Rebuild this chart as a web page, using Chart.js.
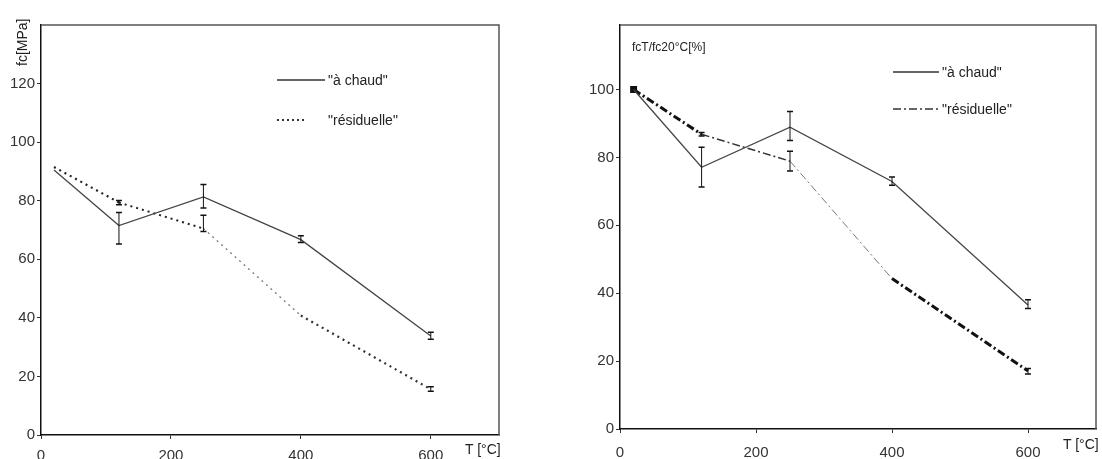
<!DOCTYPE html>
<html>
<head>
<meta charset="utf-8">
<script src="https://cdn.jsdelivr.net/npm/chart.js@4/dist/chart.umd.min.js"></script>
<style>
  body { margin: 0; background: #fff; width: 1102px; height: 459px; overflow: hidden; position: relative; font-family: "Liberation Sans", Arial, sans-serif; color: #222; }
  canvas { position: absolute; top: 0; }
  #left { left: 0; }
  #right { left: 520px; }
  .lbl { position: absolute; font-size: 14px; white-space: nowrap; line-height: 1; }
  .leg { position: absolute; font-size: 14px; white-space: nowrap; line-height: 1; display: flex; align-items: center; }
  .leg svg { margin-right: 3px; }
</style>
</head>
<body>
<canvas id="left" width="510" height="459"></canvas>
<canvas id="right" width="582" height="459"></canvas>

<div class="lbl" style="left:15px; top:66px; transform: rotate(-90deg); transform-origin: left top;">fc[MPa]</div>
<div class="lbl" style="left:632px; top:41px; font-size:12px;">fcT/fc20°C[%]</div>
<div class="lbl" style="left:465px; top:442px;">T [°C]</div>
<div class="lbl" style="left:1063px; top:437px;">T [°C]</div>

<div class="leg" style="left:277px; top:73px;"><svg width="48" height="4"><line x1="0" y1="2" x2="48" y2="2" stroke="#333" stroke-width="1.3"/></svg>"à chaud"</div>
<div class="leg" style="left:277px; top:113px;"><svg width="48" height="4"><line x1="0" y1="2" x2="28" y2="2" stroke="#333" stroke-width="2" stroke-dasharray="2 3"/></svg>"résiduelle"</div>
<div class="leg" style="left:893px; top:65px;"><svg width="46" height="4"><line x1="0" y1="2" x2="46" y2="2" stroke="#333" stroke-width="1.3"/></svg>"à chaud"</div>
<div class="leg" style="left:893px; top:102px;"><svg width="46" height="4"><line x1="0" y1="2" x2="46" y2="2" stroke="#333" stroke-width="1.5" stroke-dasharray="8 3 2 3"/></svg>"résiduelle"</div>

<script>
const temps = [20, 120, 250, 400, 600];

// fc [MPa]
const chaudMPa = [90.5, 71.5, 81.3, 66.7, 33.8];
const chaudMPaLow = [null, 65.2, 77.5, 65.7, 32.7];
const chaudMPaHigh = [null, 76, 85.5, 68, 35.1];
const residMPa = [91.5, 79.4, 70.5, 40.8, 15.6];
const residMPaLow = [null, 78.6, 69.5, null, 14.9];
const residMPaHigh = [null, 80.1, 75, null, 16.5];

// fcT/fc20°C [%]
const chaudPct = [100, 77.1, 88.9, 72.9, 36.5];
const chaudPctLow = [null, 71.3, 85, 71.8, 35.5];
const chaudPctHigh = [null, 83, 93.5, 74.2, 38.1];
const residPct = [100, 86.8, 78.9, 44.3, 17.1];
const residPctLow = [null, 86.3, 76, null, 16.2];
const residPctHigh = [null, 87.3, 81.8, null, 17.8];

const xTicks = [0, 200, 400, 600];
const yTicksMPa = [0, 20, 40, 60, 80, 100, 120];
const yTicksPct = [0, 20, 40, 60, 80, 100];

const pts = (ys) => temps.map((t, i) => ({ x: t, y: ys[i] }));

// error bars + frame
const extras = {
  id: "extras",
  afterDatasetsDraw(chart, args, opts) {
    const { ctx, scales: { x, y }, chartArea: a } = chart;
    ctx.save();
    ctx.strokeStyle = "#111";
    ctx.lineWidth = 1;
    opts.bars.forEach((b) => {
      temps.forEach((t, i) => {
        if (b.low[i] == null) return;
        const px = x.getPixelForValue(t);
        const y1 = y.getPixelForValue(b.low[i]);
        const y2 = y.getPixelForValue(b.high[i]);
        ctx.beginPath();
        ctx.moveTo(px, y1); ctx.lineTo(px, y2);
        ctx.stroke();
        ctx.lineWidth = 1.5;
        ctx.beginPath();
        ctx.moveTo(px - 3, y1); ctx.lineTo(px + 3, y1);
        ctx.moveTo(px - 3, y2); ctx.lineTo(px + 3, y2);
        ctx.stroke();
        ctx.lineWidth = 1;
      });
    });
    ctx.strokeStyle = "#555";
    ctx.lineWidth = 1.5;
    ctx.beginPath();
    ctx.moveTo(a.left, a.top); ctx.lineTo(a.right, a.top); ctx.lineTo(a.right, a.bottom);
    ctx.stroke();
    ctx.restore();
  },
};

function makeChart(id, cfg) {
  const tickFont = { family: "'Liberation Sans', Arial, sans-serif", size: 15 };
  return new Chart(document.getElementById(id), {
    type: "line",
    data: {
      datasets: [
        {
          data: pts(cfg.chaud),
          borderColor: "#444",
          borderWidth: 1.3,
          pointRadius: 0,
          tension: 0,
        },
        {
          data: pts(cfg.resid),
          borderColor: "#222",
          borderWidth: 2,
          pointRadius: cfg.residPoints,
          pointStyle: "rect",
          pointBackgroundColor: "#111",
          pointBorderColor: "#111",
          tension: 0,
          segment: {
            borderDash: () => cfg.dash,
            borderWidth: (c) => cfg.segWidth[c.p0DataIndex],
            borderColor: (c) => cfg.segColor[c.p0DataIndex],
          },
        },
      ],
    },
    options: {
      responsive: false,
      animation: false,
      layout: { padding: cfg.padding },
      plugins: {
        legend: { display: false },
        tooltip: { enabled: false },
        extras: { bars: cfg.bars },
      },
      scales: {
        x: {
          type: "linear",
          min: 0,
          max: cfg.xMax,
          afterFit: (s) => { s.height = cfg.xHeight; },
          afterBuildTicks: (s) => { s.ticks = xTicks.map((v) => ({ value: v })); },
          ticks: { font: tickFont, color: "#333", padding: cfg.xPad, maxRotation: 0 },
          grid: { drawOnChartArea: false, drawTicks: true, tickLength: 4, color: "#333" },
          border: { color: "#111", width: 1.5 },
        },
        y: {
          min: 0,
          max: cfg.yMax,
          afterFit: (s) => { s.width = cfg.yWidth; },
          afterBuildTicks: (s) => { s.ticks = cfg.yTicks.map((v) => ({ value: v })); },
          ticks: { font: tickFont, color: "#333", padding: 2 },
          grid: { drawOnChartArea: false, drawTicks: true, tickLength: 4, color: "#333" },
          border: { color: "#111", width: 1.5 },
        },
      },
    },
    plugins: [extras],
  });
}

makeChart("left", {
  chaud: chaudMPa,
  resid: residMPa,
  residPoints: 0,
  dash: [2, 4],
  segWidth: [2.2, 2, 1.3, 2.2],
  segColor: ["#222", "#222", "#777", "#333"],
  bars: [
    { low: chaudMPaLow, high: chaudMPaHigh },
    { low: residMPaLow, high: residMPaHigh },
  ],
  padding: { left: 0, top: 25, right: 11, bottom: 0 },
  xMax: 705,
  yMax: 140,
  xHeight: 24,
  xPad: 8,
  yWidth: 41,
  yTicks: yTicksMPa,
});

makeChart("right", {
  chaud: chaudPct,
  resid: residPct,
  residPoints: [3.5, 0, 0, 0, 0],
  dash: [8, 3, 2, 3],
  segWidth: [3, 1.5, 1, 3],
  segColor: ["#111", "#333", "#777", "#111"],
  bars: [
    { low: chaudPctLow, high: chaudPctHigh },
    { low: residPctLow, high: residPctHigh },
  ],
  padding: { left: 0, top: 25, right: 5, bottom: 0 },
  xMax: 700,
  yMax: 119,
  xHeight: 30,
  xPad: 11,
  yWidth: 100,
  yTicks: yTicksPct,
});
</script>
</body>
</html>
